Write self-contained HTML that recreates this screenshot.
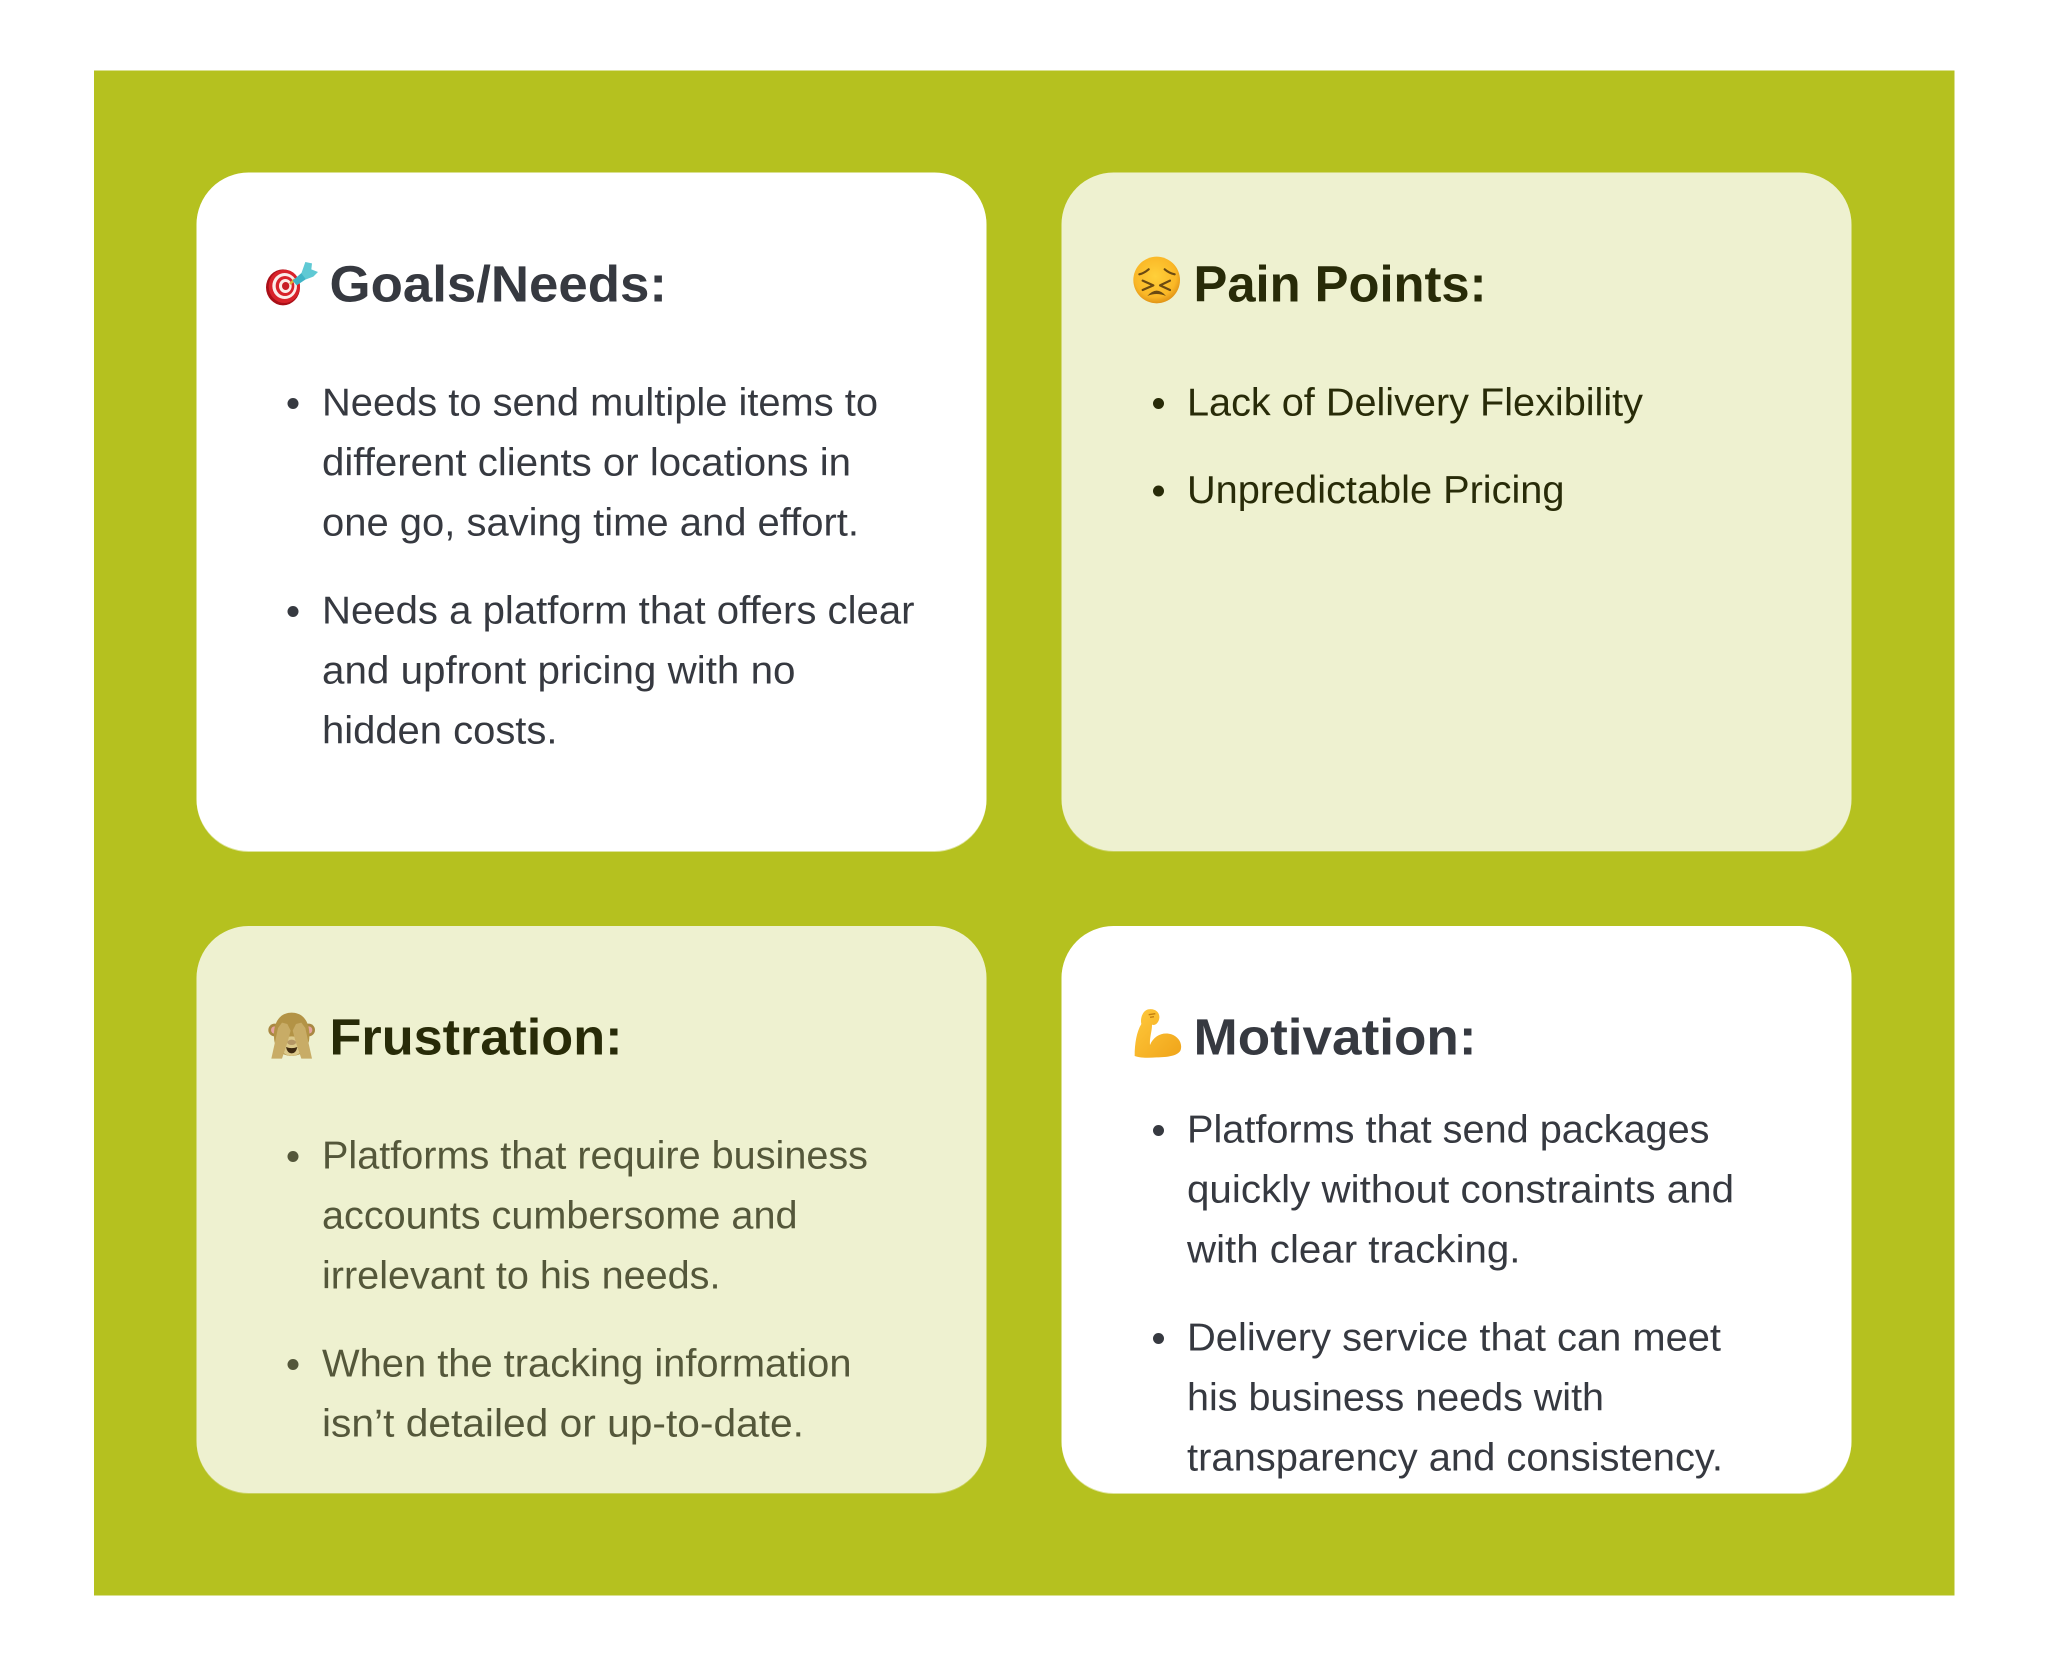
<!DOCTYPE html>
<html><head><meta charset="utf-8"><style>
html,body{margin:0;padding:0;background:#fff;width:2050px;height:1666px;overflow:hidden}
svg{display:block}
text{font-family:"Liberation Sans",sans-serif}
.t{font-size:51px;font-weight:700}
.b{font-size:38.5px}
</style></head><body>
<svg width="2050" height="1666" viewBox="0 0 2050 1666" xmlns="http://www.w3.org/2000/svg">
<defs>
<radialGradient id="fy" cx=".47" cy=".42" r=".62"><stop offset="0" stop-color="#FFD03A"/><stop offset=".72" stop-color="#FAB726"/><stop offset="1" stop-color="#DA8A12"/></radialGradient>
<linearGradient id="mu" x1="0" y1="0" x2="1" y2="1"><stop offset="0" stop-color="#FFC93C"/><stop offset="1" stop-color="#F0A419"/></linearGradient>
</defs>
<rect width="2050" height="1666" fill="#fff"/>
<rect x="94" y="70.5" width="1860.5" height="1525" fill="#B5C11F"/>
<rect x="196.5" y="173.5" width="790" height="678.5" rx="52" fill="#DDE39A"/>
<rect x="1061.5" y="173.5" width="790" height="678.5" rx="52" fill="#C9D15C"/>
<rect x="196.5" y="927" width="790" height="567" rx="52" fill="#C9D15C"/>
<rect x="1061.5" y="927" width="790" height="567" rx="52" fill="#DDE39A"/>
<rect x="196.5" y="172.5" width="790" height="678.5" rx="52" fill="#fff"/>
<rect x="1061.5" y="172.5" width="790" height="678.5" rx="52" fill="#EEF1D0"/>
<rect x="196.5" y="926" width="790" height="567" rx="52" fill="#EEF1D0"/>
<rect x="1061.5" y="926" width="790" height="567" rx="52" fill="#fff"/>

<g fill="#363940">
<text class="t" x="329.5" y="301.5" textLength="337.5" lengthAdjust="spacingAndGlyphs">Goals/Needs:</text>
<circle cx="293" cy="403.5" r="5.5"/>
<text class="b" x="322" y="415.3" textLength="556" lengthAdjust="spacingAndGlyphs">Needs to send multiple items to</text>
<text class="b" x="322" y="475.3" textLength="529" lengthAdjust="spacingAndGlyphs">different clients or locations in</text>
<text class="b" x="322" y="535.3" textLength="537" lengthAdjust="spacingAndGlyphs">one go, saving time and effort.</text>
<circle cx="293" cy="611.5" r="5.5"/>
<text class="b" x="322" y="623.3" textLength="592.5" lengthAdjust="spacingAndGlyphs">Needs a platform that offers clear</text>
<text class="b" x="322" y="683.3" textLength="473.5" lengthAdjust="spacingAndGlyphs">and upfront pricing with no</text>
<text class="b" x="322" y="743.3" textLength="235.5" lengthAdjust="spacingAndGlyphs">hidden costs.</text>
</g>

<g fill="#282B08">
<text class="t" x="1193.5" y="301.5" textLength="293" lengthAdjust="spacingAndGlyphs">Pain Points:</text>
<circle cx="1158.5" cy="403.5" r="5.5"/>
<text class="b" x="1187" y="415.3" textLength="456" lengthAdjust="spacingAndGlyphs">Lack of Delivery Flexibility</text>
<circle cx="1158.5" cy="491" r="5.5"/>
<text class="b" x="1187" y="503" textLength="377.5" lengthAdjust="spacingAndGlyphs">Unpredictable Pricing</text>
<text class="t" x="329.5" y="1054.5" textLength="293" lengthAdjust="spacingAndGlyphs">Frustration:</text>
</g>

<g fill="#54573A">
<circle cx="293" cy="1156.5" r="5.5"/>
<text class="b" x="322" y="1168.3" textLength="546" lengthAdjust="spacingAndGlyphs">Platforms that require business</text>
<text class="b" x="322" y="1228.3" textLength="475.5" lengthAdjust="spacingAndGlyphs">accounts cumbersome and</text>
<text class="b" x="322" y="1288.3" textLength="398.5" lengthAdjust="spacingAndGlyphs">irrelevant to his needs.</text>
<circle cx="293" cy="1364.5" r="5.5"/>
<text class="b" x="322" y="1376.3" textLength="529.5" lengthAdjust="spacingAndGlyphs">When the tracking information</text>
<text class="b" x="322" y="1436.3" textLength="482" lengthAdjust="spacingAndGlyphs">isn’t detailed or up-to-date.</text>
</g>

<g fill="#363940">
<text class="t" x="1193.5" y="1054.5" textLength="283" lengthAdjust="spacingAndGlyphs">Motivation:</text>
<circle cx="1158.5" cy="1130.5" r="5.5"/>
<text class="b" x="1187" y="1142.3" textLength="522.5" lengthAdjust="spacingAndGlyphs">Platforms that send packages</text>
<text class="b" x="1187" y="1202.3" textLength="547" lengthAdjust="spacingAndGlyphs">quickly without constraints and</text>
<text class="b" x="1187" y="1262.3" textLength="333.5" lengthAdjust="spacingAndGlyphs">with clear tracking.</text>
<circle cx="1158.5" cy="1338.5" r="5.5"/>
<text class="b" x="1187" y="1350.3" textLength="534" lengthAdjust="spacingAndGlyphs">Delivery service that can meet</text>
<text class="b" x="1187" y="1410.3" textLength="417" lengthAdjust="spacingAndGlyphs">his business needs with</text>
<text class="b" x="1187" y="1470.3" textLength="536" lengthAdjust="spacingAndGlyphs">transparency and consistency.</text>
</g>

<!-- target emoji -->
<g transform="translate(250,240) scale(.33333)">
<ellipse cx="99" cy="142" rx="51" ry="54" fill="#A90F18"/>
<ellipse cx="103" cy="139" rx="47" ry="50" fill="#D8232A"/>
<ellipse cx="104" cy="138" rx="37" ry="39" fill="#FBEDEA"/>
<ellipse cx="105" cy="138" rx="28" ry="30" fill="#D8232A"/>
<ellipse cx="106" cy="138" rx="19" ry="21" fill="#FBEDEA"/>
<ellipse cx="107" cy="138" rx="11" ry="12" fill="#C81E26"/>
<path d="M120 132L134 118" stroke="#E0B23A" stroke-width="7"/>
<path d="M128 122L160 94L176 112L140 136Z" fill="#3FB4C6"/>
<path d="M154 100L166 66L186 70L184 88L204 96L190 110L168 118Z" fill="#5FC9D4"/>
</g>

<!-- persevering face -->
<g transform="translate(1120,240) scale(.33333)">
<circle cx="110" cy="120" r="70" fill="url(#fy)"/>
<g fill="none" stroke="#6B4A12" stroke-width="6.5" stroke-linecap="round" stroke-linejoin="round">
<path d="M58 103Q72 100 86 88"/>
<path d="M164 103Q148 100 134 88"/>
<path d="M68 122L100 136L68 150"/>
<path d="M150 122L120 136L150 150"/>
</g>
<path d="M82 168Q110 136 138 168Q110 156 82 168Z" fill="#6B4A12"/>
</g>

<!-- see-no-evil monkey -->
<g transform="translate(250,1000) scale(.33333)">
<circle cx="74" cy="90" r="19" fill="#A98842"/><circle cx="74" cy="90" r="11" fill="#E5A3A0"/>
<circle cx="176" cy="90" r="19" fill="#A98842"/><circle cx="176" cy="90" r="11" fill="#E5A3A0"/>
<path d="M72 110C70 60 95 38 125 38C155 38 180 60 178 110C178 140 160 168 125 168C90 168 72 140 72 110Z" fill="#B39345"/>
<path d="M92 118Q125 100 158 118Q165 165 125 168Q85 165 92 118Z" fill="#DCC98A"/>
<path d="M64 176L76 122L84 84L96 68L112 72L122 92L114 122L96 176Z" fill="#C8AC66"/>
<path d="M186 176L174 122L166 84L154 68L138 72L128 92L136 122L154 176Z" fill="#C8AC66"/>
<ellipse cx="125" cy="127" rx="13" ry="8" fill="#B59765"/>
<path d="M108 141Q125 148 142 141Q138 160 125 160Q112 160 108 141Z" fill="#3E2A10"/>
</g>

<!-- flexed biceps -->
<g transform="translate(1120,1000) scale(.33333)">
<path d="M44 168C44 130 50 95 64 72C60 55 68 32 84 28C104 24 120 36 118 54C116 70 104 78 96 74C96 95 88 115 90 135C102 105 130 95 155 103C175 110 188 130 182 150C175 168 140 172 110 172C85 174 60 174 44 168Z" fill="url(#mu)"/>
<path d="M86 44L106 41M90 52L102 50" stroke="#C27F12" stroke-width="4" fill="none"/>
</g>
</svg>
</body></html>
